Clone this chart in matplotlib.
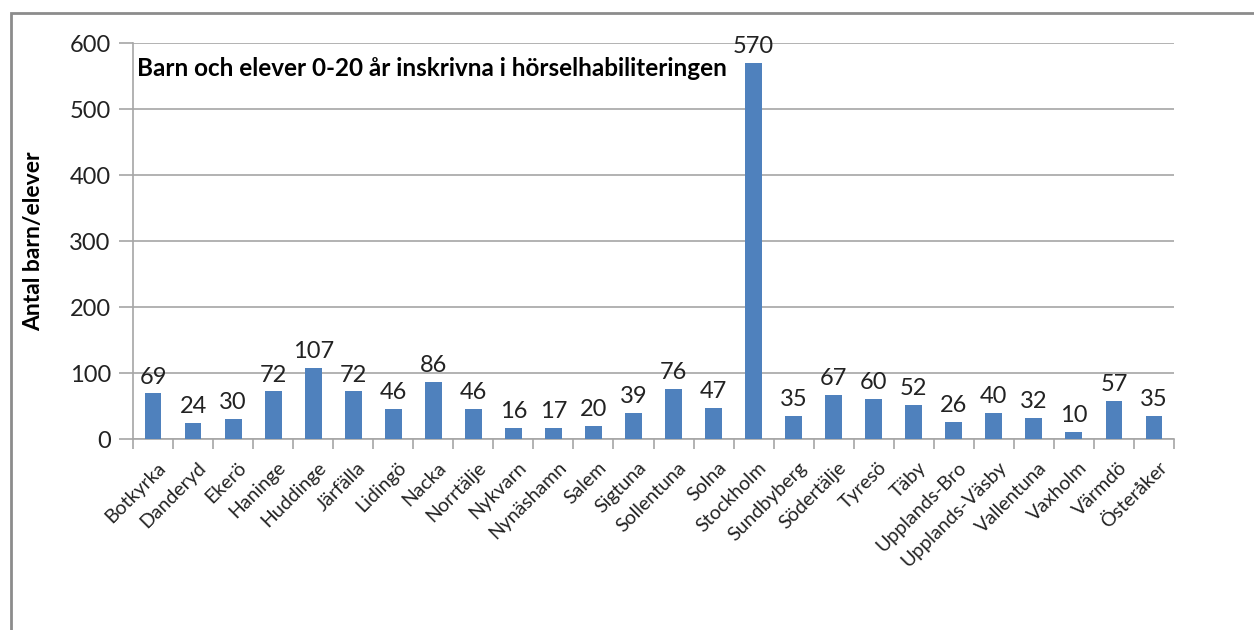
import matplotlib.pyplot as plt
from matplotlib.patches import Rectangle

kommuner = ['Botkyrka', 'Danderyd', 'Ekerö', 'Haninge', 'Huddinge', 'Järfälla',
            'Lidingö', 'Nacka', 'Norrtälje', 'Nykvarn', 'Nynäshamn', 'Salem',
            'Sigtuna', 'Sollentuna', 'Solna', 'Stockholm', 'Sundbyberg',
            'Södertälje', 'Tyresö', 'Täby', 'Upplands-Bro', 'Upplands-Väsby',
            'Vallentuna', 'Vaxholm', 'Värmdö', 'Österåker']
antal = [69, 24, 30, 72, 107, 72, 46, 86, 46, 16, 17, 20, 39, 76, 47, 570,
         35, 67, 60, 52, 26, 40, 32, 10, 57, 35]
yticks = [0, 100, 200, 300, 400, 500, 600]

plt.rcParams['font.family'] = ['Lato', 'DejaVu Sans']

fig = plt.figure(figsize=(12.54, 6.30), dpi=100)
fig.patches.append(Rectangle((11 / 1254, -0.1), 1.2, 1.1 - 13 / 630,
                             transform=fig.transFigure, fill=False,
                             edgecolor='#8c8c8c', linewidth=2))
ax = fig.add_axes([133 / 1254, 191 / 630, 1041 / 1254, 396 / 630])

x = list(range(len(kommuner)))
ax.bar(x, antal, width=0.42, color='#4F81BD', zorder=3)
for xi, v in zip(x, antal):
    ax.text(xi, v + 9, str(v), ha='center', va='bottom', fontsize=17,
            color='#222222', clip_on=False)

ax.set_xlim(-0.5, len(kommuner) - 0.5)
ax.set_ylim(0, 600)
ax.set_yticks(yticks)
ax.set_yticklabels([str(t) for t in yticks], fontsize=17, color='#222222')
ax.yaxis.grid(True, color='#a6a6a6', linewidth=1.2, zorder=0)

ax.set_xticks([i - 0.5 for i in range(len(kommuner) + 1)])
ax.set_xticklabels([])
ax.tick_params(axis='x', direction='out', length=7, color='#a6a6a6', width=1.2)
ax.tick_params(axis='y', direction='out', length=10, color='#a6a6a6', width=1.2,
               pad=6)
for xi, name in zip(x, kommuner):
    ax.text(xi + 0.1, -30, name, rotation=45, ha='right', va='top',
            rotation_mode='anchor', fontsize=14, color='#222222')

for s in ['top', 'right']:
    ax.spines[s].set_visible(False)
for s in ['left', 'bottom']:
    ax.spines[s].set_color('#a6a6a6')
    ax.spines[s].set_linewidth(1.2)

ax.set_ylabel('Antal barn/elever', fontsize=16.5, fontweight='bold',
              labelpad=18)
ax.text(0.004, 0.965, 'Barn och elever 0-20 år inskrivna i hörselhabiliteringen',
        transform=ax.transAxes, fontsize=17.5, fontweight='bold', va='top',
        ha='left')

fig.savefig('out.png', dpi=100)
